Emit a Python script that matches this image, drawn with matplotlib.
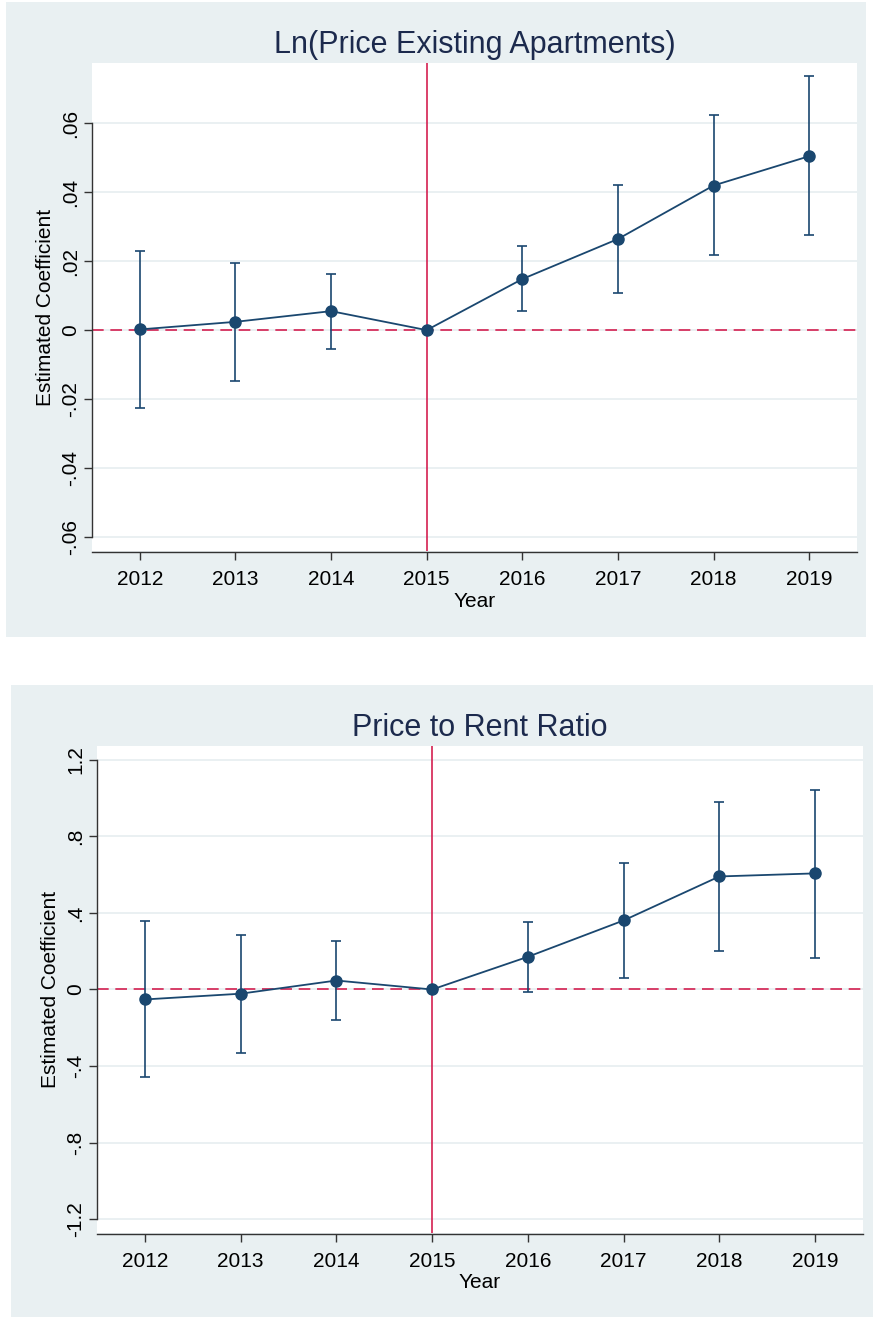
import numpy as np
import matplotlib
matplotlib.use("Agg")
import matplotlib.pyplot as plt

plt.rcParams['font.family'] = ['Liberation Sans', 'DejaVu Sans']

# datos
years = [2012, 2013, 2014, 2015, 2016, 2017, 2018, 2019]

coef_price = [0.0002, 0.0024, 0.0055, 0.0, 0.0148, 0.0264, 0.0419, 0.0504]
lo_price = [-0.0226, -0.0146, -0.0054, 0.0, 0.0055, 0.0107, 0.0217, 0.0275]
hi_price = [0.0229, 0.0194, 0.0163, 0.0, 0.0243, 0.0420, 0.0622, 0.0736]
yticks_price = [-0.06, -0.04, -0.02, 0, 0.02, 0.04, 0.06]
ylabels_price = ['-.06', '-.04', '-.02', '0', '.02', '.04', '.06']

coef_ratio = [-0.052, -0.022, 0.047, 0.0, 0.171, 0.361, 0.591, 0.607]
lo_ratio = [-0.458, -0.332, -0.162, 0.0, -0.012, 0.061, 0.203, 0.167]
hi_ratio = [0.356, 0.287, 0.252, 0.0, 0.355, 0.661, 0.979, 1.045]
yticks_ratio = [-1.2, -0.8, -0.4, 0, 0.4, 0.8, 1.2]
ylabels_ratio = ['-1.2', '-.8', '-.4', '0', '.4', '.8', '1.2']

W, H = 873, 1317
NAVY = '#1a476f'
RED = '#d42050'
BG = '#e9f0f2'
GRID = '#e6eef0'
AXC = '#333333'

fig = plt.figure(figsize=(W / 100, H / 100), dpi=100)


def px_rect(x0, y0, x1, y1):
    return [x0 / W, 1 - y1 / H, (x1 - x0) / W, (y1 - y0) / H]


def panel(bg_box, ax_box, titulo, coef, lo, hi, yticks, ylabels, ylim):
    # fondo gris azulado del panel (estilo Stata)
    bg = fig.add_axes(px_rect(*bg_box), zorder=-5)
    bg.set_facecolor(BG)
    bg.set_xticks([])
    bg.set_yticks([])
    for s in bg.spines.values():
        s.set_visible(False)

    ax = fig.add_axes(px_rect(*ax_box), zorder=1)
    ax.set_facecolor('white')
    coef = np.array(coef)
    err = [coef - np.array(lo), np.array(hi) - coef]

    for t in yticks:
        ax.axhline(t, color=GRID, lw=1.2, zorder=1)
    ax.axhline(0, color=RED, lw=1.2, ls=(0, (7, 4)), zorder=2)
    ax.axvline(2015, color=RED, lw=1.2, zorder=2)

    ax.errorbar(years, coef, yerr=err, fmt='none', ecolor=NAVY, elinewidth=1.2,
                capsize=3.3, capthick=1.2, zorder=3)
    ax.plot(years, coef, color=NAVY, lw=1.3, marker='o', markersize=8,
            markerfacecolor=NAVY, markeredgecolor=NAVY, zorder=4)

    ax.set_xlim(2011.5, 2019.5)
    ax.set_ylim(*ylim)
    ax.set_xticks(years)
    ax.set_xticklabels([str(y) for y in years])
    ax.set_yticks(yticks)
    ax.set_yticklabels(ylabels)

    for s in ['top', 'right']:
        ax.spines[s].set_visible(False)
    ax.spines['left'].set_bounds(yticks[0], yticks[-1])
    ax.spines['bottom'].set_position(('outward', 1))
    for s in ['left', 'bottom']:
        ax.spines[s].set_color(AXC)
        ax.spines[s].set_linewidth(1.0)

    ax.tick_params(axis='x', length=5.8, width=1.0, color=AXC, labelsize=15, pad=7)
    ax.tick_params(axis='y', length=5.8, width=1.0, color=AXC, labelsize=15, pad=2.5,
                   labelrotation=90)
    for lab in ax.get_yticklabels():
        lab.set_va('center')

    ax.set_title(titulo, fontsize=22, color='#1c2a4d', pad=7)
    ax.set_ylabel('Estimated Coefficient', fontsize=15)
    ax.yaxis.set_label_coords(-0.048, 0.5)
    ax.set_xlabel('Year', fontsize=15)
    ax.xaxis.set_label_coords(0.5, -0.083)
    return ax


panel((6, 2, 866, 637), (92, 63, 857, 551), 'Ln(Price Existing Apartments)',
      coef_price, lo_price, hi_price, yticks_price, ylabels_price, (-0.064, 0.0774))
panel((11, 685, 873, 1317), (97, 746, 863, 1233), 'Price to Rent Ratio',
      coef_ratio, lo_ratio, hi_ratio, yticks_ratio, ylabels_ratio, (-1.273, 1.273))

fig.savefig('out.png', dpi=100, facecolor='white')
